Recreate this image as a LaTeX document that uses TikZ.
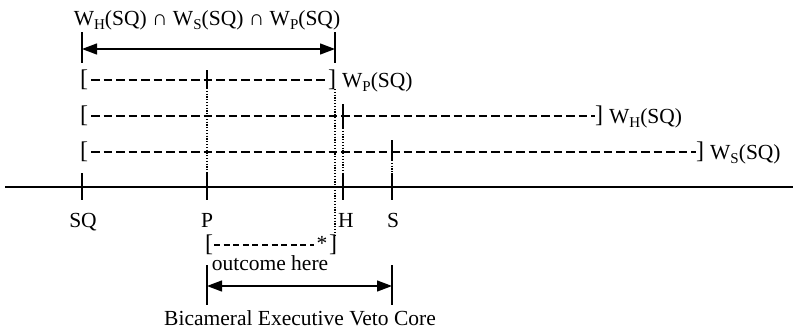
\documentclass[tikz,border=0pt]{standalone}
\usepackage{fontspec}
\setmainfont{Liberation Serif}
\usetikzlibrary{arrows.meta}
\newcommand\sbx[1]{\raisebox{-4.5pt}{\fontsize{15}{15}\selectfont #1}}
\begin{document}
\begin{tikzpicture}[x=1pt,y=-1pt,
  every node/.style={inner sep=0pt, font=\fontsize{21.5}{24}\selectfont},
  brk/.style={font=\fontsize{24}{26}\selectfont},
  lbl/.style={anchor=base},
  wlbl/.style={anchor=base west},
  dashrow/.style={line width=1.3pt, dash pattern=on 8.5pt off 4pt},
  dashsmall/.style={line width=1.2pt, dash pattern=on 6pt off 3.6pt},
  dotline/.style={line width=1.4pt, dash pattern=on 1.2pt off 1.6pt},
  tickline/.style={line width=1.4pt},
  dimarrow/.style={line width=1.3pt, {Triangle[length=15pt,width=11pt]}-{Triangle[length=15pt,width=11pt]}},
  axisline/.style={line width=2.6pt}]
\useasboundingbox (0,0) rectangle (793,333);

% ---------- title and intersection arrow ----------
\node[lbl] (title) at (207,25) {W\sbx{H}(SQ) ∩ W\sbx{S}(SQ) ∩ W\sbx{P}(SQ)};
\coordinate (iL1) at (82,32);  \coordinate (iL2) at (82,63);
\coordinate (iR1) at (335,32); \coordinate (iR2) at (335,63);
\coordinate (iaL) at (82,49);  \coordinate (iaR) at (335,49);
\draw[tickline] (iL1) -- (iL2);
\draw[tickline] (iR1) -- (iR2);
\draw[dimarrow] (iaL) -- (iaR);

% ---------- row W_P ----------
\node[brk] (pL) at (84,80) {[};
\node[brk] (pR) at (332,80) {]};
\coordinate (pd1) at (91,80); \coordinate (pd2) at (328,80);
\draw[dashrow] (pd1) -- (pd2);
\coordinate (pt1) at (207,70); \coordinate (pt2) at (207,88);
\draw[tickline] (pt1) -- (pt2);
\node[wlbl] (wp) at (342,87) {W\sbx{P}(SQ)};

% ---------- row W_H ----------
\node[brk] (hL) at (84,116) {[};
\node[brk] (hR) at (599,116) {]};
\coordinate (hd1) at (91,116); \coordinate (hd2) at (595,116);
\draw[dashrow] (hd1) -- (hd2);
\coordinate (ht1) at (343,104); \coordinate (ht2) at (343,128);
\draw[tickline] (ht1) -- (ht2);
\node[wlbl] (wh) at (609,123) {W\sbx{H}(SQ)};

% ---------- row W_S ----------
\node[brk] (sL) at (84,152) {[};
\node[brk] (sR) at (700,152) {]};
\coordinate (sd1) at (91,152); \coordinate (sd2) at (696,152);
\draw[dashrow] (sd1) -- (sd2);
\coordinate (st1) at (392,140); \coordinate (st2) at (392,160);
\draw[tickline] (st1) -- (st2);
\node[wlbl] (ws) at (710,159) {W\sbx{S}(SQ)};

% ---------- axis ----------
\coordinate (axL) at (5,187); \coordinate (axR) at (793,187);
\draw[axisline] (axL) -- (axR);
\coordinate (sq1) at (82,173); \coordinate (sq2) at (82,200);
\coordinate (p1) at (207,173);  \coordinate (p2) at (207,200);
\coordinate (h1) at (343,173);  \coordinate (h2) at (343,200);
\coordinate (s1) at (392,173);  \coordinate (s2) at (392,200);
\draw[tickline] (sq1) -- (sq2);
\draw[tickline] (p1) -- (p2);
\draw[tickline] (h1) -- (h2);
\draw[tickline] (s1) -- (s2);
\node[lbl] (lsq) at (83,227) {SQ};
\node[lbl] (lp) at (207,227) {P};
\node[lbl] (lh) at (346,227) {H};
\node[lbl] (ls) at (393,227) {S};

% ---------- dotted projections ----------
\draw[dotline] (pt2) -- (p1);
\draw[dotline] (ht2) -- (h1);
\draw[dotline] (st2) -- (s1);
\coordinate (dpTop) at (335,89); \coordinate (dpBot) at (335,235);
\draw[dotline] (dpTop) -- (dpBot);

% ---------- outcome bracket ----------
\node[brk] (oL) at (209,245) {[};
\node[brk] (oR) at (333,245) {]};
\coordinate (od1) at (214,245); \coordinate (od2) at (314,245);
\draw[dashsmall] (od1) -- (od2);
\node[lbl] (star) at (322,250.5) {*};
\node[lbl] (outc) at (270,270.5) {outcome here};

% ---------- veto core ----------
\coordinate (cL1) at (207,265); \coordinate (cL2) at (207,305);
\coordinate (cR1) at (392,265); \coordinate (cR2) at (392,305);
\coordinate (caL) at (207,286); \coordinate (caR) at (392,286);
\draw[tickline] (cL1) -- (cL2);
\draw[tickline] (cR1) -- (cR2);
\draw[dimarrow] (caL) -- (caR);
\node[lbl] (core) at (300,325) {Bicameral Executive Veto Core};
\end{tikzpicture}
\end{document}
